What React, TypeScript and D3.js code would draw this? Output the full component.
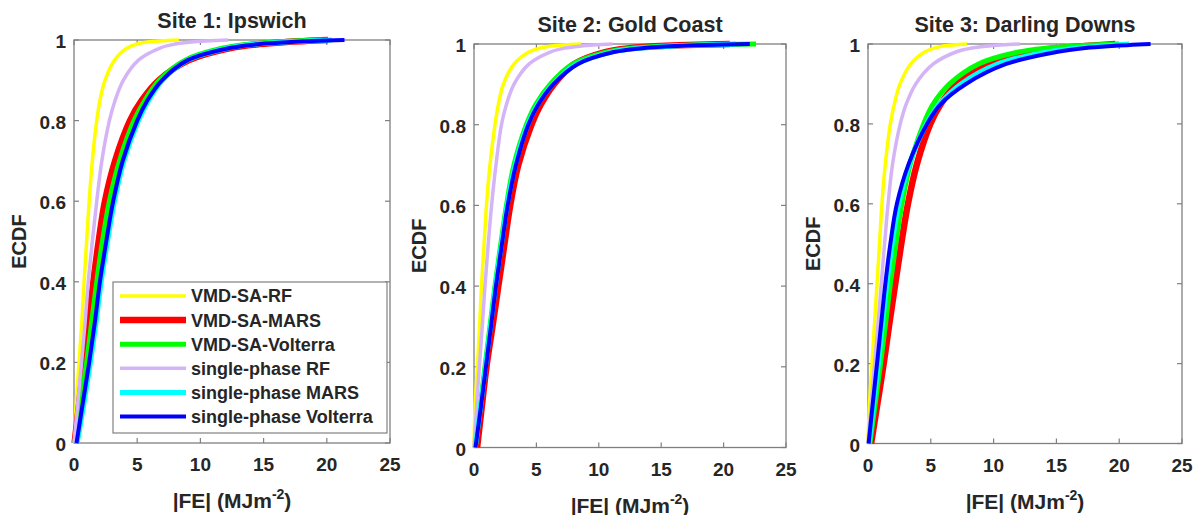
import React from "react";
import * as d3 from "d3";

// ECDF probability levels at which |FE| quantiles were read
const ecdfLevels = [0, 0.1, 0.2, 0.3, 0.4, 0.5, 0.6, 0.7, 0.8, 0.85, 0.9, 0.95, 0.98, 0.99, 0.995, 1];

const seriesNames = ["VMD-SA-RF", "VMD-SA-MARS", "VMD-SA-Volterra", "single-phase RF", "single-phase MARS", "single-phase Volterra"];
const seriesColors = ["#FFFF00", "#FF0000", "#00FF00", "#D4B4F6", "#00FFFF", "#0000FF"];
const seriesWidths = [3.5, 6.5, 5, 3.5, 5, 4];

const siteTitles = ["Site 1: Ipswich", "Site 2: Gold Coast", "Site 3: Darling Downs"];
const xTicks = [0, 5, 10, 15, 20, 25];
const yTicks = [0, 0.2, 0.4, 0.6, 0.8, 1];

// Site 1: Ipswich (|FE| quantiles per ECDF level)
const ipswichRF = [0, 0.17, 0.4, 0.62, 0.8, 1.0, 1.2, 1.45, 1.8, 2.05, 2.45, 3.2, 4.2, 5.0, 5.8, 8.3];
const ipswichMARS = [0.05, 0.42, 0.8, 1.15, 1.53, 1.95, 2.45, 3.25, 4.43, 5.36, 6.7, 9.1, 12.4, 14.7, 16.8, 20.1];
const ipswichVolterra = [0.05, 0.55, 1.0, 1.4, 1.8, 2.25, 2.8, 3.6, 4.75, 5.6, 6.75, 8.8, 11.8, 14.0, 16.0, 19.6];
const ipswichSpRF = [0, 0.3, 0.6, 0.88, 1.13, 1.45, 1.8, 2.2, 2.8, 3.25, 3.9, 5.1, 6.8, 8.0, 9.3, 12.2];
const ipswichSpMARS = [0.25, 0.8, 1.3, 1.75, 2.15, 2.65, 3.2, 3.95, 5.1, 5.9, 7.0, 9.0, 12.2, 14.5, 16.8, 20.4];
const ipswichSpVolterra = [0.2, 0.7, 1.2, 1.65, 2.05, 2.55, 3.1, 3.85, 5.0, 5.8, 6.95, 9.0, 12.3, 14.7, 17.2, 21.4];

// Site 2: Gold Coast
const goldRF = [0, 0.08, 0.27, 0.45, 0.6, 0.8, 1.0, 1.28, 1.68, 1.95, 2.35, 3.2, 4.4, 5.3, 6.2, 8.6];
const goldMARS = [0.25, 0.62, 1.0, 1.48, 1.95, 2.42, 2.9, 3.55, 4.6, 5.35, 6.4, 8.0, 10.5, 12.6, 15.0, 20.5];
const goldVolterra = [0.1, 0.5, 0.88, 1.28, 1.68, 2.13, 2.6, 3.2, 4.2, 4.95, 6.1, 7.9, 10.6, 12.8, 15.3, 22.6];
const goldSpRF = [0, 0.2, 0.43, 0.66, 0.88, 1.13, 1.41, 1.76, 2.2, 2.6, 3.2, 4.4, 6.1, 7.3, 8.6, 11.1];
const goldSpMARS = [0.1, 0.52, 0.92, 1.32, 1.72, 2.18, 2.65, 3.3, 4.3, 5.1, 6.3, 8.2, 11.0, 13.4, 16.0, 21.0];
const goldSpVolterra = [0.12, 0.55, 0.96, 1.36, 1.76, 2.22, 2.7, 3.36, 4.35, 5.15, 6.35, 8.3, 11.2, 13.6, 16.3, 22.1];

// Site 3: Darling Downs
const darlingRF = [0, 0.12, 0.32, 0.52, 0.72, 0.92, 1.11, 1.38, 1.78, 2.1, 2.55, 3.4, 4.5, 5.3, 6.0, 7.9];
const darlingMARS = [0.25, 0.75, 1.25, 1.7, 2.17, 2.65, 3.18, 3.9, 4.96, 5.8, 7.1, 9.5, 13.0, 15.3, 17.3, 19.7];
const darlingVolterra = [0.15, 0.58, 1.0, 1.4, 1.78, 2.22, 2.7, 3.37, 4.43, 5.2, 6.5, 8.8, 12.0, 14.3, 16.5, 20.0];
const darlingSpRF = [0, 0.26, 0.53, 0.8, 1.06, 1.32, 1.6, 1.96, 2.57, 3.05, 3.8, 5.2, 7.0, 8.3, 9.6, 12.1];
const darlingSpMARS = [0.1, 0.45, 0.82, 1.15, 1.5, 1.92, 2.45, 3.3, 4.65, 5.7, 7.4, 10.3, 14.2, 16.6, 18.5, 20.8];
const darlingSpVolterra = [0.05, 0.38, 0.72, 1.05, 1.38, 1.78, 2.3, 3.24, 4.7, 5.8, 7.8, 11.0, 15.0, 17.3, 19.4, 22.5];

const siteSeries = [
  [ipswichRF, ipswichMARS, ipswichVolterra, ipswichSpRF, ipswichSpMARS, ipswichSpVolterra],
  [goldRF, goldMARS, goldVolterra, goldSpRF, goldSpMARS, goldSpVolterra],
  [darlingRF, darlingMARS, darlingVolterra, darlingSpRF, darlingSpMARS, darlingSpVolterra],
];

const panels = [
  { x0: 74, x1: 390, y0: 40, y1: 443 },
  { x0: 474, x1: 786, y0: 44, y1: 447.5 },
  { x0: 868, x1: 1182, y0: 44, y1: 443.5 },
];

const FONT = "'Liberation Sans', Arial, Helvetica, sans-serif";
const TEXT = "#262626";
const AXIS = "#808080";

function Panel({ idx }: { idx: number }) {
  const p = panels[idx];
  const x = d3.scaleLinear().domain([0, 25]).range([p.x0, p.x1]);
  const y = d3.scaleLinear().domain([0, 1]).range([p.y1, p.y0]);
  const line = d3
    .line<[number, number]>()
    .x((d) => x(d[0]))
    .y((d) => y(d[1]))
    .curve(d3.curveCatmullRom.alpha(0.5));
  const tl = 5;
  return (
    <g>
      <text x={(p.x0 + p.x1) / 2} y={p.y0 - 12} textAnchor="middle" fontFamily={FONT} fontWeight="bold" fontSize={21.5} fill={TEXT}>
        {siteTitles[idx]}
      </text>
      <rect x={p.x0} y={p.y0} width={p.x1 - p.x0} height={p.y1 - p.y0} fill="#fff" stroke={AXIS} strokeWidth={1.3} />
      {xTicks.map((t) => (
        <g key={"x" + t}>
          <line x1={x(t)} x2={x(t)} y1={p.y1} y2={p.y1 - tl} stroke={AXIS} strokeWidth={1.2} />
          <line x1={x(t)} x2={x(t)} y1={p.y0} y2={p.y0 + tl} stroke={AXIS} strokeWidth={1.2} />
          <text x={x(t)} y={p.y1 + 28} textAnchor="middle" fontFamily={FONT} fontWeight="bold" fontSize={19} fill={TEXT}>
            {t}
          </text>
        </g>
      ))}
      {yTicks.map((t) => (
        <g key={"y" + t}>
          <line x1={p.x0} x2={p.x0 + tl} y1={y(t)} y2={y(t)} stroke={AXIS} strokeWidth={1.2} />
          <line x1={p.x1} x2={p.x1 - tl} y1={y(t)} y2={y(t)} stroke={AXIS} strokeWidth={1.2} />
          <text x={p.x0 - 8} y={y(t) + 8} textAnchor="end" fontFamily={FONT} fontWeight="bold" fontSize={19} fill={TEXT}>
            {t}
          </text>
        </g>
      ))}
      {siteSeries[idx].map((vals, si) => {
        const pts: [number, number][] = vals.map((v, k) => [v, ecdfLevels[k]] as [number, number]);
        return (
          <path key={si} d={line(pts) || ""} fill="none" stroke={seriesColors[si]} strokeWidth={seriesWidths[si]} strokeLinejoin="round" />
        );
      })}
      <text x={(p.x0 + p.x1) / 2} y={p.y1 + 65} textAnchor="middle" fontFamily={FONT} fontWeight="bold" fontSize={21} fill={TEXT}>
        |FE| (MJm
        <tspan fontSize={14} dy={-9}>-2</tspan>
        <tspan dy={9}>)</tspan>
      </text>
      <text
        transform={`translate(${p.x0 - 55},${(p.y0 + p.y1) / 2}) rotate(-90)`}
        textAnchor="middle"
        dy="0.35em"
        fontFamily={FONT}
        fontWeight="bold"
        fontSize={20}
        fill={TEXT}
      >
        ECDF
      </text>
    </g>
  );
}

function Legend() {
  const bx = 113, by = 282, bw = 274, bh = 151;
  const rowY = d3.scaleLinear().domain([0, 5]).range([296, 416.5]);
  return (
    <g>
      <rect x={bx} y={by} width={bw} height={bh} fill="#fff" stroke={AXIS} strokeWidth={1.2} />
      {seriesNames.map((n, i) => (
        <g key={n}>
          <line x1={120} x2={186} y1={rowY(i)} y2={rowY(i)} stroke={seriesColors[i]} strokeWidth={seriesWidths[i]} />
          <text x={191} y={rowY(i)} dy="0.36em" fontFamily={FONT} fontWeight="bold" fontSize={18} fill={TEXT}>
            {n}
          </text>
        </g>
      ))}
    </g>
  );
}

export default function App() {
  return (
    <svg width={1199} height={515} style={{ position: "absolute", left: 0, top: 0, background: "#fff" }}>
      <rect x={0} y={0} width={1199} height={515} fill="#fff" />
      <Panel idx={0} />
      <Panel idx={1} />
      <Panel idx={2} />
      <Legend />
    </svg>
  );
}
